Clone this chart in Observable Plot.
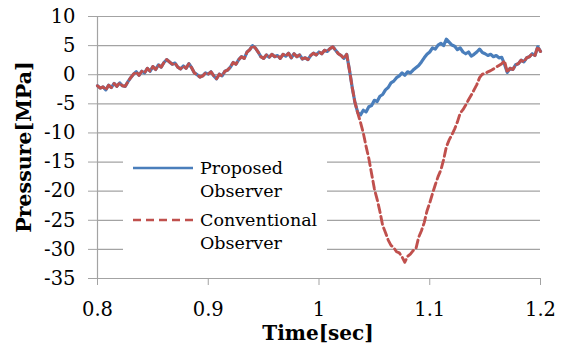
<!DOCTYPE html>
<html>
<head>
<meta charset="utf-8">
<script src="https://cdn.jsdelivr.net/npm/d3@7"></script>
<script src="https://cdn.jsdelivr.net/npm/@observablehq/plot@0.6"></script>
<style>
  html, body { margin: 0; padding: 0; background: #fff; }
  #chart svg { display: block; }
  #chart svg text { font-family: "DejaVu Serif", serif; }
</style>
</head>
<body>
<div id="chart"></div>
<script>
// Sample grid (seconds)
const timeStart = 0.8;
const timeStep = 0.0025;

// Proposed Observer pressure [MPa], one value per sample (0.800 ... 1.200)
const proposed = [
  -1.9, -2.3, -2.1, -2.6, -1.8, -2.2, -1.5, -2.0, -1.4, -1.9,
  -2.0, -1.2, -0.5, 0.1, 0.5, -0.1, 0.6, 0.3, 1.1, 0.6,
  1.4, 0.9, 1.7, 1.3, 2.1, 2.6, 2.2, 1.8, 2.0, 1.3,
  1.0, 1.5, 1.1, 1.9, 1.2, 0.3, 0.0, -0.4, -0.2, 0.3,
  0.1, 0.5, -0.2, -0.7, 0.1, -0.2, 0.6, 0.8, 1.3, 2.1,
  1.8, 2.6, 3.1, 2.8, 3.9, 4.3, 5.0, 4.6, 3.9, 3.1,
  2.8, 3.4, 3.0, 3.5, 3.1, 3.3, 2.8, 3.5, 3.2, 3.7,
  2.9, 3.6, 3.1, 3.4, 2.7, 2.9, 2.6, 3.3, 3.7, 3.4,
  3.9, 3.6, 4.2, 4.0, 4.5, 4.8, 4.2, 3.6, 3.3, 2.8,
  3.5, 0.8, -2.2, -4.8, -6.5, -6.9, -6.1, -6.4, -5.5, -5.3,
  -4.4, -4.6, -3.7, -3.4, -2.6, -2.2, -1.4, -1.1, -0.5, -0.2,
  0.3, -0.1, 0.5, 0.3, 0.8, 1.2, 1.6, 2.2, 2.9, 3.5,
  3.9, 4.6, 4.4, 5.1, 5.4, 5.0, 6.1, 5.6, 5.1, 4.9,
  4.3, 4.6, 3.9, 3.6, 3.9, 3.2, 3.5, 3.9, 4.4, 3.8,
  3.6, 3.3, 3.5, 3.1, 3.3, 2.9, 3.0, 1.8, 0.4, 1.1,
  0.9, 1.7, 1.9, 2.5, 2.2, 2.9, 3.1, 3.6, 3.3, 4.8,
  4.0
];

// Conventional Observer: identical to Proposed except on this stretch
const conventionalFromIndex = 94; // t = 1.035 s
const conventionalSegment = [
  -6.6, -8.2, -10.0, -12.3, -14.4, -17.0, -19.6, -21.4, -23.5, -25.9,
  -27.1, -28.4, -29.3, -29.7, -30.4, -30.6, -31.3, -32.2, -31.2, -30.8,
  -30.2, -29.9, -27.9, -26.8, -25.4, -23.4, -22.0, -20.4, -18.9, -17.5,
  -16.4, -14.6, -12.4, -11.2, -10.3, -9.3, -8.1, -6.6, -6.0, -5.2,
  -4.3, -3.5, -2.6, -1.7, -0.5, 0.1, 0.2, 0.5, 0.7, 1.0,
  1.3, 1.6, 1.9, 2.4
];

const xTicks = [0.8, 0.9, 1.0, 1.1, 1.2];
const yTicks = [10, 5, 0, -5, -10, -15, -20, -25, -30, -35];
const seriesNames = ["Proposed\nObserver", "Conventional\nObserver"];

const conventional = proposed.map((v, i) =>
  (i >= conventionalFromIndex && i < conventionalFromIndex + conventionalSegment.length)
    ? conventionalSegment[i - conventionalFromIndex] : v);

const propRows = proposed.map((v, i) => ({time: timeStart + i * timeStep, p: v}));
const convRows = conventional.map((v, i) => ({time: timeStart + i * timeStep, p: v}));

const BLUE = "#4a7ebb";
const RED = "#c0504d";
const GRID = "#a3a3a3";

const plot = Plot.plot({
  width: 564,
  height: 349,
  marginLeft: 97,
  marginRight: 24,
  marginTop: 16,
  marginBottom: 71,
  x: {domain: [0.8, 1.2]},
  y: {domain: [-35, 10]},
  style: {fontFamily: "DejaVu Serif, serif", fontSize: "19.5px", color: "#000", background: "#fff"},
  marks: [
    Plot.gridY({ticks: yTicks, stroke: GRID, strokeOpacity: 1, strokeWidth: 1.2}),
    Plot.axisY({ticks: yTicks, tickSize: 9, tickPadding: 13, stroke: GRID, strokeOpacity: 1,
                fontSize: 19.5, tickFormat: d => String(d), label: null}),
    Plot.axisX({ticks: xTicks, tickSize: 7, tickPadding: 17, stroke: GRID, strokeOpacity: 1,
                fontSize: 19.5, tickFormat: d => String(d), label: null}),
    Plot.ruleX([0.8], {stroke: GRID, strokeWidth: 1.2}),
    Plot.ruleY([-35], {stroke: GRID, strokeWidth: 1.2}),
    Plot.line(propRows, {x: "time", y: "p", stroke: BLUE, strokeWidth: 3.2}),
    Plot.line(convRows, {x: "time", y: "p", stroke: RED, strokeWidth: 2.9, strokeDasharray: "8,4"})
  ]
});

document.getElementById("chart").appendChild(plot);

const svg = d3.select(plot);

// Axis titles
svg.append("text")
  .attr("x", 318).attr("y", 340)
  .attr("text-anchor", "middle")
  .attr("font-weight", "bold").attr("font-size", "20px")
  .attr("fill", "#000")
  .text("Time[sec]");

svg.append("text")
  .attr("transform", "translate(31,147) rotate(-90)")
  .attr("text-anchor", "middle")
  .attr("font-weight", "bold").attr("font-size", "20.5px")
  .attr("fill", "#000")
  .text("Pressure[MPa]");

// Legend (inside the plot area)
const lg = svg.append("g").attr("text-anchor", "start");
lg.append("rect").attr("x", 123).attr("y", 146).attr("width", 204).attr("height", 116).attr("fill", "#fff");
const entries = [
  {name: seriesNames[0], color: BLUE, dash: null, y: 168},
  {name: seriesNames[1], color: RED, dash: "8,5", y: 220}
];
entries.forEach(e => {
  lg.append("line").attr("x1", 133).attr("x2", 193).attr("y1", e.y).attr("y2", e.y)
    .attr("stroke", e.color).attr("stroke-width", 2.4)
    .attr("stroke-dasharray", e.dash);
  const lines = e.name.split("\n");
  lines.forEach((s, k) => {
    lg.append("text").attr("x", 200).attr("y", e.y + 6 + k * 23)
      .attr("text-anchor", "start")
      .attr("font-size", "17.5px")
      .attr("fill", "#000").text(s);
  });
});
</script>
</body>
</html>
